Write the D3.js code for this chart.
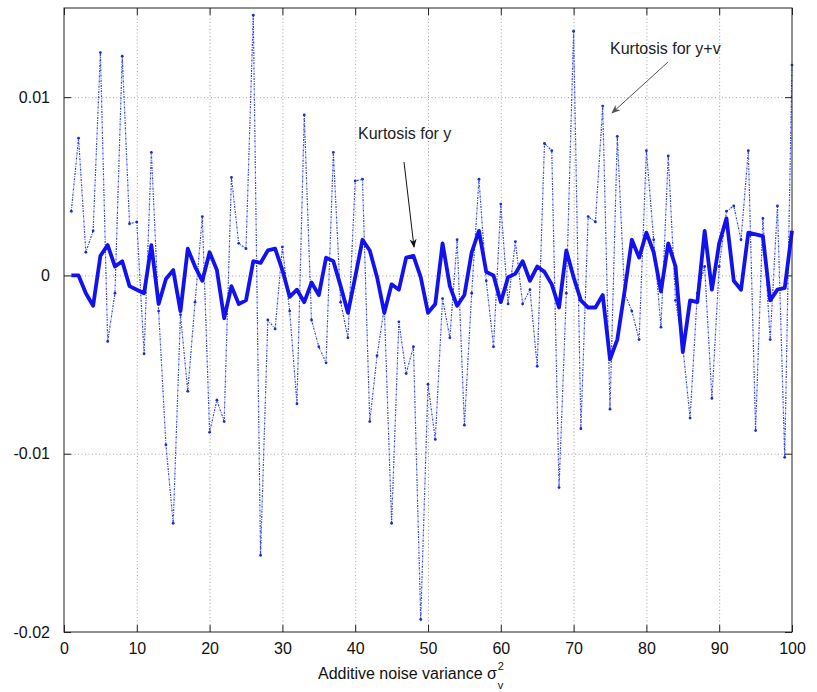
<!DOCTYPE html>
<html>
<head>
<meta charset="utf-8">
<script src="https://cdn.jsdelivr.net/npm/d3@7.9.0/dist/d3.min.js"></script>
<style>
  body { margin: 0; background: #fff; }
  svg { display: block; font-family: Arial, "Liberation Sans", sans-serif; }
</style>
</head>
<body>
<div id="chart"></div>
<script>
// values, in units of 1e-3
const kurtY = [
  0, 0, -1.0, -1.7, 1.1, 1.7, 0.5, 0.8, -0.6, -0.8,
  -1.0, 1.7, -1.6, -0.2, 0.3, -2.0, 1.5, 0.5, -0.3, 1.3,
  0.3, -2.4, -0.6, -1.6, -1.4, 0.8, 0.7, 1.4, 1.5, 0.3,
  -1.2, -0.8, -1.5, -0.4, -1.1, 1.0, 0.8, -0.6, -2.1, -0.1,
  2.0, 1.4, -0.1, -2.1, -0.5, -0.8, 1.0, 1.1, -0.1, -2.1,
  -1.6, 1.8, -0.6, -1.7, -1.1, 1.3, 2.5, 0.2, 0.0, -1.5,
  -0.1, 0.1, 0.8, -0.3, 0.5, 0.2, -0.5, -1.8, 1.4, -0.1,
  -1.4, -1.8, -1.8, -1.1, -4.7, -3.6, -0.9, 2.0, 1.0, 2.4,
  1.3, -0.9, 1.8, 0.5, -4.3, -1.4, -1.5, 2.5, -0.8, 1.8,
  3.2, -0.3, -0.8, 2.4, 2.3, 2.2, -1.4, -0.8, -0.7, 2.5
];

const kurtYV = [
  3.6, 7.7, 1.3, 2.5, 12.5, -3.7, -1.0, 12.3, 2.9, 3.0,
  -4.4, 6.9, -2.0, -9.5, -13.9, -2.2, -6.5, -1.5, 3.3, -8.8,
  -7.0, -8.2, 5.5, 1.8, 1.5, 14.6, -15.7, -2.5, -3.0, 1.6,
  -2.0, -7.2, 9.0, -2.5, -4.0, -4.9, 6.9, -1.5, -3.5, 5.3,
  5.4, -8.2, -4.5, -1.8, -13.9, -2.6, -5.5, -4.0, -19.3, -6.1,
  -9.2, -1.3, -3.5, 2.0, -8.4, -1.0, 5.4, -0.3, -4.0, 4.0,
  -1.6, 1.9, -1.6, -0.8, -5.1, 7.4, 7.0, -11.9, -1.0, 13.7,
  -8.6, 3.3, 3.0, 9.5, -7.5, 7.8, -1.0, -2.0, -3.6, 7.0,
  2.0, -2.9, 6.7, -1.4, -4.0, -8.0, -1.0, 0.5, -6.9, 0.5,
  3.6, 3.9, 2.0, 7.0, -8.7, 3.2, -3.6, 3.9, -10.2, 11.8
];

const xTicks = [0, 10, 20, 30, 40, 50, 60, 70, 80, 90, 100];
const yTicks = [-0.02, -0.01, 0, 0.01];
const yTickLabels = ['-0.02', '-0.01', '0', '0.01'];

const width = 817;
const height = 692;
const margin = { top: 8, right: 25, bottom: 60, left: 64 };

const toPoints = (arr) => arr.map((v, i) => ({ x: i + 1, y: v / 1000 }));
const solid = toPoints(kurtY);
const dotted = toPoints(kurtYV);

const svg = d3.select('#chart').append('svg')
  .attr('width', width)
  .attr('height', height);

const xScale = d3.scaleLinear().domain([0, 100]).range([margin.left, width - margin.right]);
const yScale = d3.scaleLinear().domain([-0.02, 0.015]).range([height - margin.bottom, margin.top]);

const plotW = width - margin.left - margin.right;
const plotH = height - margin.top - margin.bottom;

// gridlines
svg.append('g')
  .attr('transform', `translate(0, ${height - margin.bottom})`)
  .call(d3.axisBottom(xScale).tickValues(xTicks.slice(1, -1)).tickFormat('').tickSize(-plotH))
  .call(g => g.select('.domain').remove())
  .call(g => g.selectAll('line').attr('stroke', '#8a8a8a').attr('stroke-dasharray', '1,2.5').attr('stroke-width', 0.8));

svg.append('g')
  .attr('transform', `translate(${margin.left}, 0)`)
  .call(d3.axisLeft(yScale).tickValues(yTicks.slice(1)).tickFormat('').tickSize(-plotW))
  .call(g => g.select('.domain').remove())
  .call(g => g.selectAll('line').attr('stroke', '#8a8a8a').attr('stroke-dasharray', '1,2.5').attr('stroke-width', 0.8));

// y+v series: dash-dot with point markers
const line = d3.line().x(d => xScale(d.x)).y(d => yScale(d.y));

svg.append('path')
  .datum(dotted)
  .attr('fill', 'none')
  .attr('stroke', '#3444e4')
  .attr('stroke-width', 1.2)
  .attr('stroke-dasharray', '2,1.2,0.8,1.2')
  .attr('d', line);

svg.append('g')
  .selectAll('circle')
  .data(dotted)
  .join('circle')
  .attr('cx', d => xScale(d.x))
  .attr('cy', d => yScale(d.y))
  .attr('r', 1.4)
  .attr('fill', '#1a2ad8');

// y series
svg.append('path')
  .datum(solid)
  .attr('fill', 'none')
  .attr('stroke', '#1212f0')
  .attr('stroke-width', 3.8)
  .attr('stroke-linejoin', 'round')
  .attr('d', line);

// frame and inward ticks
svg.append('rect')
  .attr('x', margin.left).attr('y', margin.top)
  .attr('width', plotW).attr('height', plotH)
  .attr('fill', 'none').attr('stroke', '#222').attr('stroke-width', 1);

const tickLen = 7;
const styleAxis = g => {
  g.select('.domain').remove();
  g.selectAll('line').attr('stroke', '#222');
  g.selectAll('text').attr('fill', '#111').style('font-size', '16px');
};

svg.append('g')
  .attr('transform', `translate(0, ${height - margin.bottom})`)
  .call(d3.axisBottom(xScale).tickValues(xTicks).tickSize(-tickLen).tickPadding(11))
  .call(styleAxis);

svg.append('g')
  .attr('transform', `translate(0, ${margin.top})`)
  .call(d3.axisTop(xScale).tickValues(xTicks).tickSize(-tickLen).tickFormat(''))
  .call(styleAxis);

svg.append('g')
  .attr('transform', `translate(${margin.left}, 0)`)
  .call(d3.axisLeft(yScale).tickValues(yTicks).tickSize(-tickLen).tickPadding(14)
    .tickFormat((d, i) => yTickLabels[i]))
  .call(styleAxis);

svg.append('g')
  .attr('transform', `translate(${width - margin.right}, 0)`)
  .call(d3.axisRight(yScale).tickValues(yTicks).tickSize(-tickLen).tickFormat(''))
  .call(styleAxis);

// x label with sigma_v^2 (sub/superscript as separate texts)
const xl = svg.append('text')
  .attr('x', 318).attr('y', 679)
  .attr('fill', '#111')
  .style('font-size', '16px')
  .text('Additive noise variance σ');
const xlEnd = 318 + xl.node().getComputedTextLength();

svg.append('text')
  .attr('x', xlEnd + 1).attr('y', 689)
  .attr('fill', '#111')
  .style('font-size', '11px')
  .text('v');

svg.append('text')
  .attr('x', xlEnd + 1).attr('y', 670)
  .attr('fill', '#111')
  .style('font-size', '11px')
  .text('2');

// annotations
const defs = svg.append('defs');
[['headBlack', '#111'], ['headGray', '#555']].forEach(([id, c]) => {
  defs.append('marker')
    .attr('id', id)
    .attr('viewBox', '0 0 10 10')
    .attr('refX', 9).attr('refY', 5)
    .attr('markerWidth', 9).attr('markerHeight', 9)
    .attr('orient', 'auto')
    .append('path')
    .attr('d', 'M0,1 L10,5 L0,9 L3,5 Z')
    .attr('fill', c);
});

svg.append('text')
  .attr('x', 358).attr('y', 139)
  .attr('fill', '#222')
  .style('font-size', '16px')
  .text('Kurtosis for y');

svg.append('line')
  .attr('x1', 404).attr('y1', 162)
  .attr('x2', 414).attr('y2', 247)
  .attr('stroke', '#111').attr('stroke-width', 1)
  .attr('marker-end', 'url(#headBlack)');

svg.append('text')
  .attr('x', 610).attr('y', 54)
  .attr('fill', '#222')
  .style('font-size', '16px')
  .text('Kurtosis for y+v');

svg.append('line')
  .attr('x1', 668).attr('y1', 62)
  .attr('x2', 612).attr('y2', 113)
  .attr('stroke', '#555').attr('stroke-width', 1)
  .attr('marker-end', 'url(#headGray)');
</script>
</body>
</html>
